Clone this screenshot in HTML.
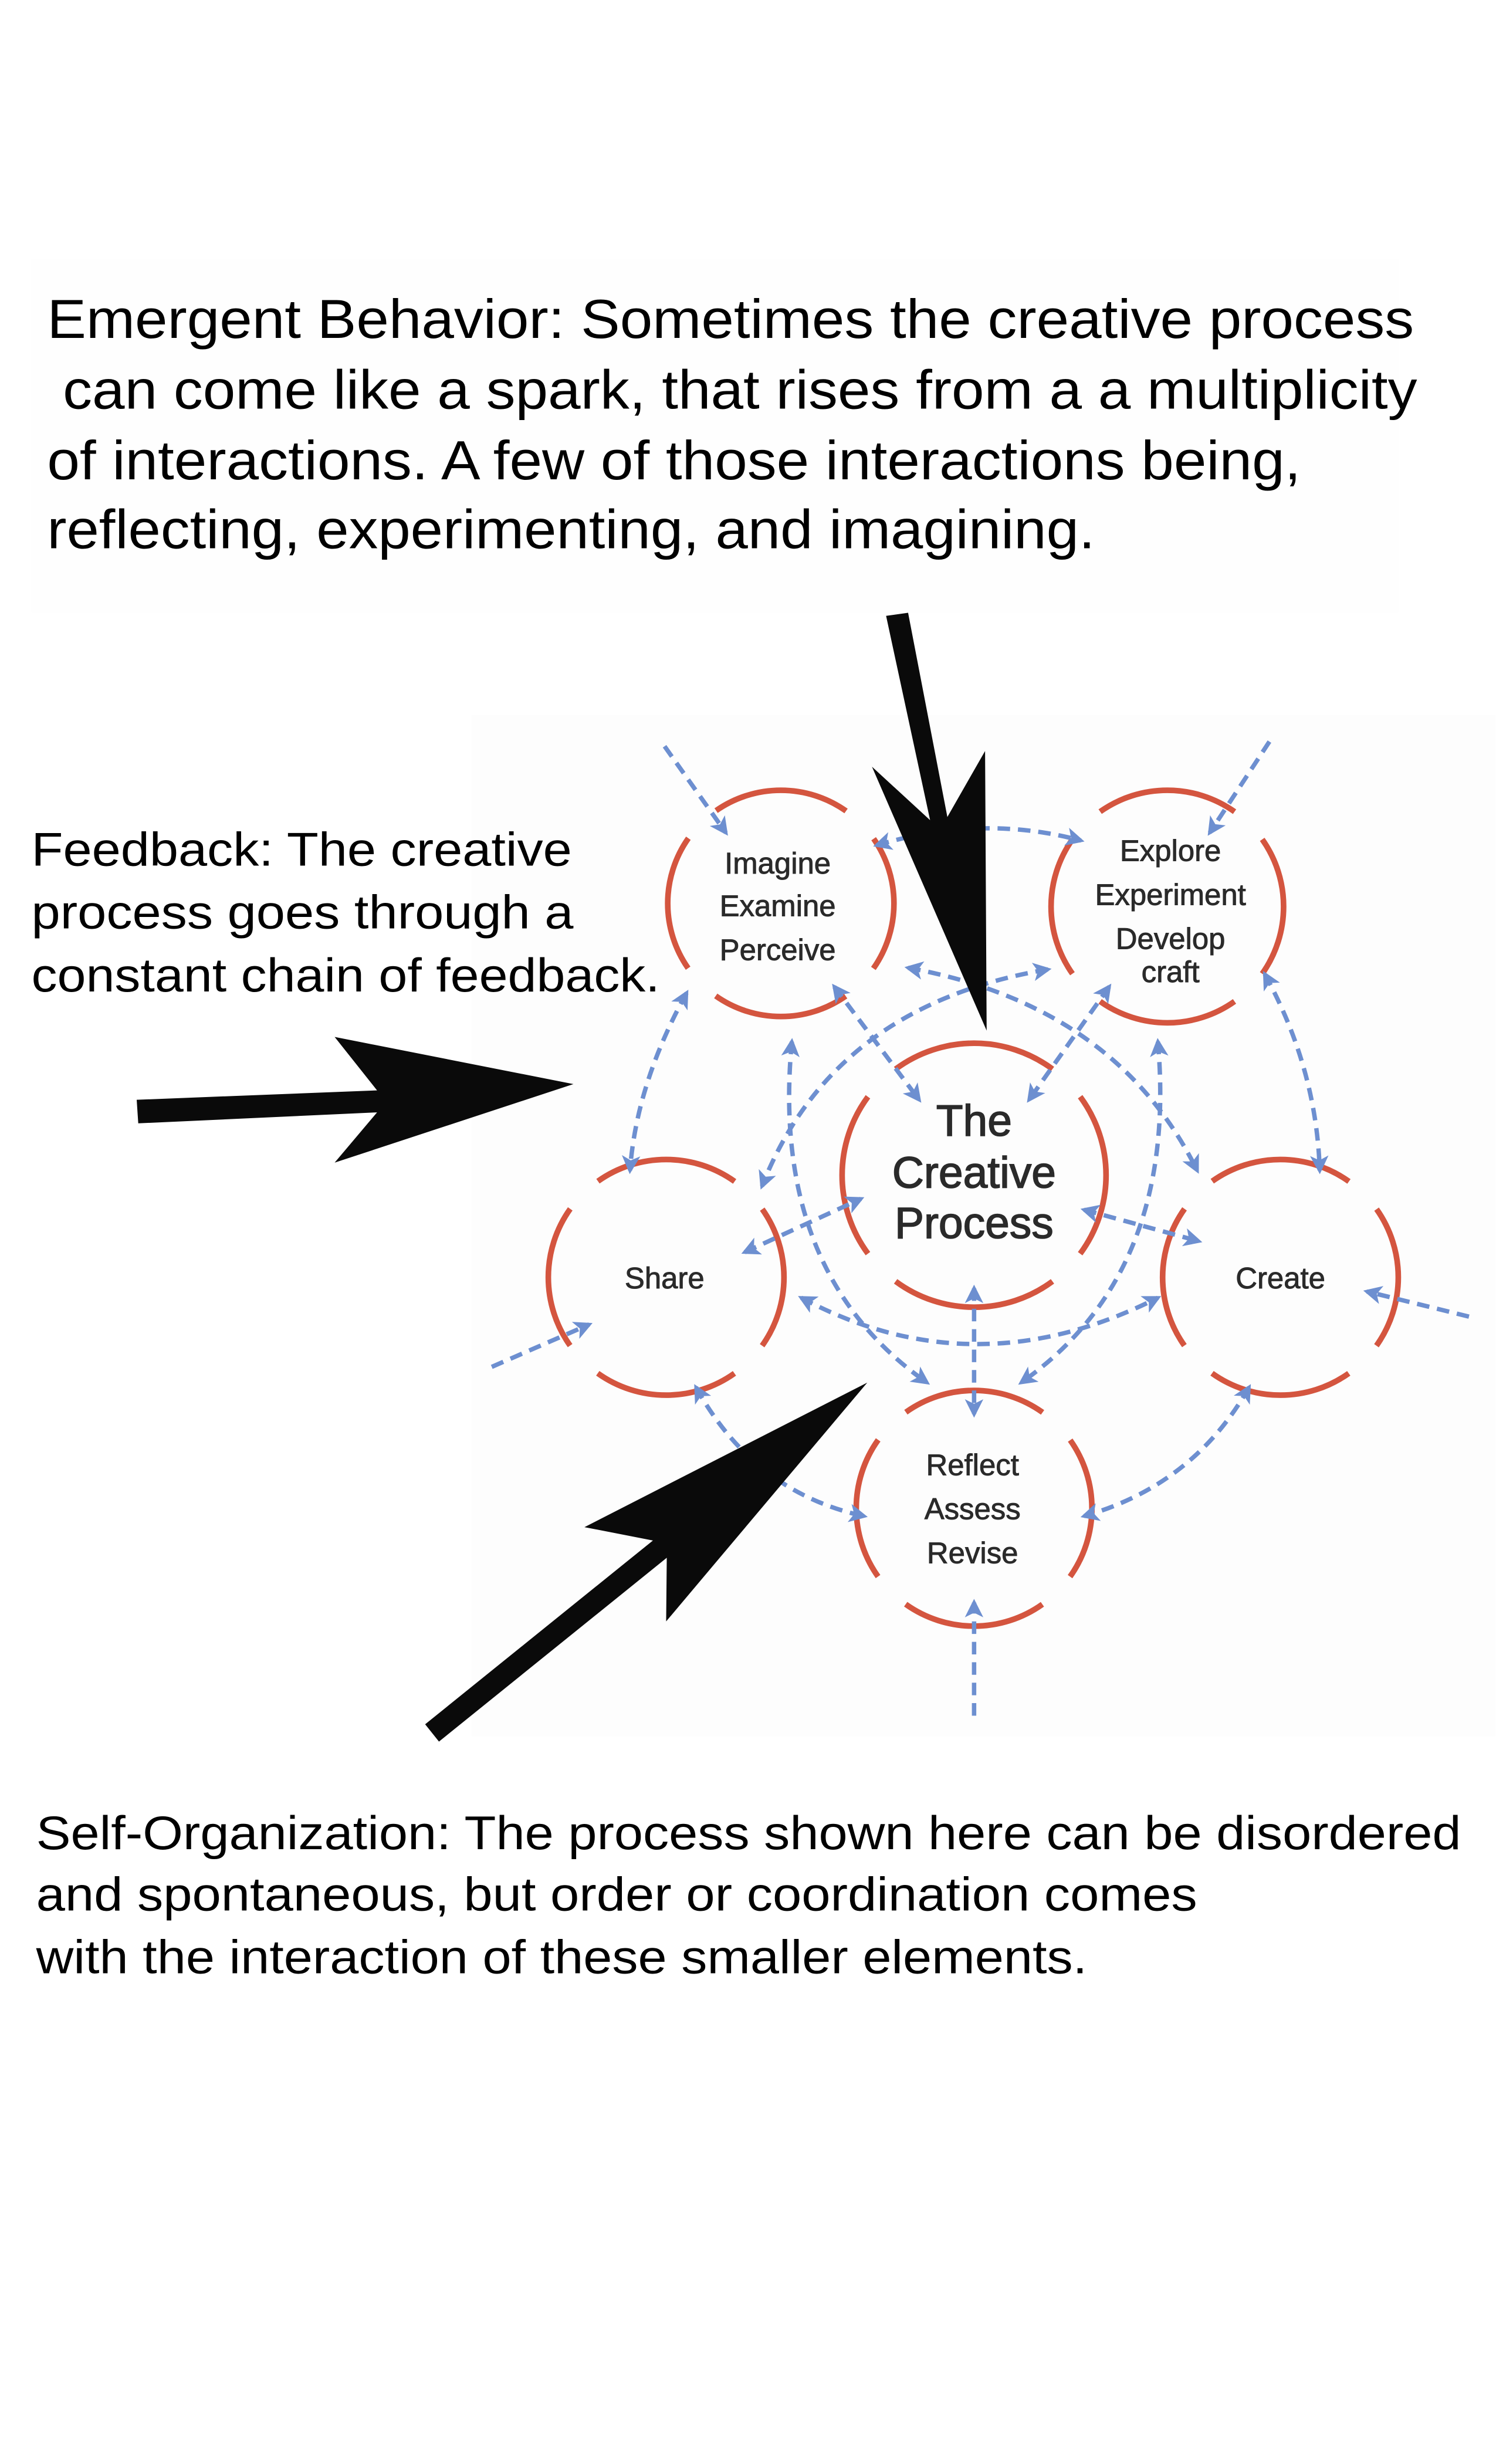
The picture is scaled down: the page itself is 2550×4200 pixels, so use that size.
<!DOCTYPE html>
<html><head><meta charset="utf-8"><style>
html,body{margin:0;padding:0;background:#fff;}
svg{display:block;}
</style></head><body>
<svg width="2550" height="4200" viewBox="0 0 952.2 1568.3" xmlns="http://www.w3.org/2000/svg" preserveAspectRatio="none">
<defs>
<marker id="ah" viewBox="0 0 10 10" refX="8" refY="5" markerWidth="4.2" markerHeight="4.2" orient="auto-start-reverse" markerUnits="strokeWidth">
<path d="M0,0 L10,5 L0,10 L2.5,5 z" fill="#6d8fd0"/>
</marker>
</defs>
<rect width="952.2" height="1568.3" fill="#fff"/>
<rect x="20" y="165" width="870" height="225" fill="#fefefe"/>
<rect x="300" y="455" width="652" height="650" fill="#fdfdfd"/>

<g font-family="Liberation Sans, Arial, sans-serif" fill="#000">
<text x="30" y="215" font-size="35" textLength="870" lengthAdjust="spacingAndGlyphs">Emergent Behavior: Sometimes the creative process</text>
<text x="40" y="260" font-size="35" textLength="862" lengthAdjust="spacingAndGlyphs">can come like a spark, that rises from a a multiplicity</text>
<text x="30" y="305" font-size="35" textLength="798" lengthAdjust="spacingAndGlyphs">of interactions. A few of those interactions being,</text>
<text x="30" y="349" font-size="35" textLength="667" lengthAdjust="spacingAndGlyphs">reflecting, experimenting, and imagining.</text>

<text x="20" y="551" font-size="30" textLength="344" lengthAdjust="spacingAndGlyphs">Feedback: The creative</text>
<text x="20" y="591" font-size="30" textLength="345" lengthAdjust="spacingAndGlyphs">process goes through a</text>
<text x="20" y="631" font-size="30" textLength="400" lengthAdjust="spacingAndGlyphs">constant chain of feedback.</text>

<text x="23" y="1177" font-size="30" textLength="907" lengthAdjust="spacingAndGlyphs">Self-Organization: The process shown here can be disordered</text>
<text x="23" y="1216" font-size="30" textLength="739" lengthAdjust="spacingAndGlyphs">and spontaneous, but order or coordination comes</text>
<text x="23" y="1256" font-size="30" textLength="669" lengthAdjust="spacingAndGlyphs">with the interaction of these smaller elements.</text>
</g>

<g fill="none" stroke="#d4553f" stroke-width="3.6">
<circle cx="497" cy="575" r="72" stroke-dasharray="88.1 25" stroke-dashoffset="44"/>
<circle cx="743" cy="577" r="74" stroke-dasharray="91.2 25" stroke-dashoffset="45.6"/>
<circle cx="620" cy="748" r="84" stroke-dasharray="106.9 25" stroke-dashoffset="53.4"/>
<circle cx="424" cy="813" r="75" stroke-dasharray="92.8 25" stroke-dashoffset="46.4"/>
<circle cx="815" cy="813" r="75" stroke-dasharray="92.8 25" stroke-dashoffset="46.4"/>
<circle cx="620" cy="960" r="75" stroke-dasharray="92.8 25" stroke-dashoffset="46.4"/>
</g>

<g fill="none" stroke="#6d8fd0" stroke-width="2.8" stroke-dasharray="8 5">
<path d="M423,475 L462,530" marker-end="url(#ah)"/>
<path d="M808,472 L770,530" marker-end="url(#ah)"/>
<path d="M558,538 Q625,518 688,535" marker-start="url(#ah)" marker-end="url(#ah)"/>
<path d="M437,632 Q405,690 401,745" marker-start="url(#ah)" marker-end="url(#ah)"/>
<path d="M805,620 Q838,680 840,745" marker-start="url(#ah)" marker-end="url(#ah)"/>
<path d="M313,870 L375,843" marker-end="url(#ah)"/>
<path d="M935,838 L870,822" marker-end="url(#ah)"/>
<path d="M620,1092 L620,1020" marker-end="url(#ah)"/>
<path d="M443,883 Q480,950 550,965" marker-start="url(#ah)" marker-end="url(#ah)"/>
<path d="M795,883 Q760,945 690,965" marker-start="url(#ah)" marker-end="url(#ah)"/>
<path d="M620,820 L620,900" marker-start="url(#ah)" marker-end="url(#ah)"/>
<path d="M531,628 L585,700" marker-start="url(#ah)" marker-end="url(#ah)"/>
<path d="M706,628 L655,700" marker-start="url(#ah)" marker-end="url(#ah)"/>
<path d="M474,797 L548,763" marker-start="url(#ah)" marker-end="url(#ah)"/>
<path d="M690,770 L763,790" marker-start="url(#ah)" marker-end="url(#ah)"/>
<path d="M504,663 Q490,810 590,880" marker-start="url(#ah)" marker-end="url(#ah)"/>
<path d="M737,663 Q750,810 650,880" marker-start="url(#ah)" marker-end="url(#ah)"/>
<path d="M667,617 Q530,640 485,755" marker-start="url(#ah)" marker-end="url(#ah)"/>
<path d="M578,616 Q710,640 762,745" marker-start="url(#ah)" marker-end="url(#ah)"/>
<path d="M510,826 Q620,885 737,826" marker-start="url(#ah)" marker-end="url(#ah)"/>
</g>

<g font-family="Liberation Sans, DejaVu Sans, sans-serif" fill="#2a2a2a" stroke="#2a2a2a" stroke-width="0.35" text-anchor="middle" font-size="19">
<text x="495" y="556">Imagine</text>
<text x="495" y="583">Examine</text>
<text x="495" y="611">Perceive</text>
<text x="745" y="548">Explore</text>
<text x="745" y="576">Experiment</text>
<text x="745" y="604">Develop</text>
<text x="745" y="625">craft</text>
<text x="423" y="820">Share</text>
<text x="815" y="820">Create</text>
<text x="619" y="939">Reflect</text>
<text x="619" y="967">Assess</text>
<text x="619" y="995">Revise</text>
<g font-size="28" stroke-width="0.6">
<text x="620" y="723">The</text>
<text x="620" y="756">Creative</text>
<text x="620" y="788">Process</text>
</g>
</g>

<g fill="#0a0a0a">
<polygon points="564,392 578,390 603,520 627,478 628,656 555,488 592,522"/>
<polygon points="87,700 240,694 213,660 365,690 213,740 240,708 88,715"/>
<polygon points="270.6,1097.5 415.6,980.5 372,972 552,880 424,1032 424.4,991.5 279.4,1108.5"/>
</g>
</svg>
</body></html>
